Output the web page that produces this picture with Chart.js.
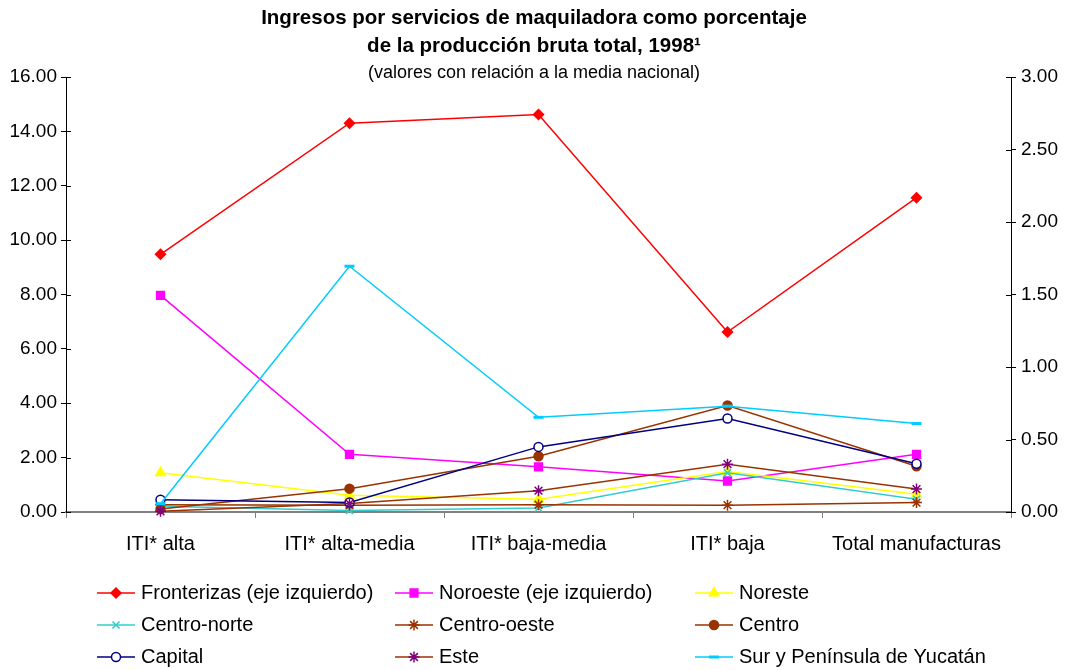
<!DOCTYPE html>
<html lang="es">
<head>
<meta charset="utf-8">
<title>Ingresos por servicios de maquiladora, 1998</title>
<script src="https://cdn.jsdelivr.net/npm/chart.js@4.4.1/dist/chart.umd.min.js"></script>
<style>
  html, body { margin: 0; padding: 0; background: #ffffff; }
  #wrap { width: 1068px; height: 670px; position: relative; }
</style>
</head>
<body>
<div id="wrap"><canvas id="chart" width="1068" height="670"></canvas></div>
<script>
// Categorías (intensidad tecnológica de la industria)
const categories = ['ITI* alta', 'ITI* alta-media', 'ITI* baja-media', 'ITI* baja', 'Total manufacturas'];

// Series en el eje izquierdo
const fronterizas = [9.48, 14.30, 14.62, 6.62, 11.56];
const noroeste    = [7.97, 2.12, 1.66, 1.14, 2.12];

// Series en el eje derecho
const noreste     = [0.27, 0.115, 0.088, 0.28, 0.123];
const centroNorte = [0.04, 0.01, 0.028, 0.27, 0.088];
const centroOeste = [0.05, 0.046, 0.05, 0.047, 0.065];
const centro      = [0.02, 0.161, 0.384, 0.735, 0.316];
const capital     = [0.085, 0.065, 0.449, 0.645, 0.333];
const este        = [0.005, 0.058, 0.147, 0.33, 0.158];
const surYucatan  = [0.057, 1.695, 0.653, 0.73, 0.61];

// Marcas de los ejes
const leftTicks  = [0, 2, 4, 6, 8, 10, 12, 14, 16];
const rightTicks = [0, 0.5, 1, 1.5, 2, 2.5, 3];

const titleLines = ['Ingresos por servicios de maquiladora como porcentaje', 'de la producción bruta total, 1998\u00B9'];
const subtitleText = '(valores con relación a la media nacional)';

const FONT = "Arial, 'Liberation Sans', sans-serif";

function series(label, data, axis, line, point) {
  return Object.assign({
    label: label,
    data: data,
    yAxisID: axis,
    borderColor: line,
    borderWidth: 1.5,
    tension: 0,
    fill: false,
    clip: false,
    pointRadius: 4.5,
    pointHoverRadius: 4.5,
    pointBorderWidth: 1.5
  }, point);
}

const datasets = [
  series('Fronterizas (eje izquierdo)', fronterizas, 'yL', '#FF0000',
    { pointStyle: 'rectRot', pointRadius: 5, pointBackgroundColor: '#FF0000', pointBorderColor: '#FF0000' }),
  series('Noroeste (eje izquierdo)', noroeste, 'yL', '#FF00FF',
    { pointStyle: 'rect', pointRadius: 5.5, pointBackgroundColor: '#FF00FF', pointBorderColor: '#FF00FF' }),
  series('Noreste', noreste, 'yR', '#FFFF00',
    { pointStyle: 'triangle', pointRadius: 5.5, pointBackgroundColor: '#FFFF00', pointBorderColor: '#FFFF00' }),
  series('Centro-norte', centroNorte, 'yR', '#33CCCC',
    { pointStyle: 'crossRot', pointRadius: 5, pointBackgroundColor: '#33CCCC', pointBorderColor: '#33CCCC' }),
  series('Centro-oeste', centroOeste, 'yR', '#993300',
    { pointStyle: 'star', pointRadius: 5.5, pointBackgroundColor: '#993300', pointBorderColor: '#993300' }),
  series('Centro', centro, 'yR', '#993300',
    { pointStyle: 'circle', pointRadius: 4.5, pointBackgroundColor: '#993300', pointBorderColor: '#993300' }),
  series('Capital', capital, 'yR', '#000080',
    { pointStyle: 'circle', pointRadius: 4.5, pointBackgroundColor: '#FFFFFF', pointBorderColor: '#000080' }),
  series('Este', este, 'yR', '#993300',
    { pointStyle: 'star', pointRadius: 5.5, pointBackgroundColor: '#800080', pointBorderColor: '#800080' }),
  series('Sur y Península de Yucatán', surYucatan, 'yR', '#00CCFF',
    { pointStyle: 'line', pointRadius: 5, pointBorderWidth: 3, pointBackgroundColor: '#00CCFF', pointBorderColor: '#00CCFF' })
];
// later series are painted over earlier ones
datasets.forEach((d, i) => { d.order = datasets.length - i; });

// Short tick marks that cross the vertical axis lines
const crossTicks = {
  id: 'crossTicks',
  afterDatasetsDraw(chart) {
    const ctx = chart.ctx;
    ctx.save();
    ctx.strokeStyle = '#000000';
    ctx.lineWidth = 1;
    ['yL', 'yR'].forEach(id => {
      const s = chart.scales[id];
      const x = id === 'yL' ? chart.chartArea.left : chart.chartArea.right;
      const dir = id === 'yL' ? 1 : -1;
      s.ticks.forEach(t => {
        const y = Math.round(s.getPixelForValue(t.value)) + 0.5;
        ctx.beginPath();
        ctx.moveTo(x, y);
        ctx.lineTo(x + dir * 5, y);
        ctx.stroke();
      });
    });
    ctx.restore();
  }
};

// Legend in three aligned columns under the plot
const gridLegend = {
  id: 'gridLegend',
  afterDraw(chart) {
    const ctx = chart.ctx;
    const colX = [97, 395, 695];
    const rowY = [593, 625, 657];
    ctx.save();
    chart.data.datasets.forEach((ds, i) => {
      const x = colX[i % 3];
      const y = rowY[Math.floor(i / 3)];
      ctx.strokeStyle = ds.borderColor;
      ctx.lineWidth = 1.5;
      ctx.beginPath();
      ctx.moveTo(x, y);
      ctx.lineTo(x + 38, y);
      ctx.stroke();
      ctx.fillStyle = ds.pointBackgroundColor;
      ctx.strokeStyle = ds.pointBorderColor;
      ctx.lineWidth = ds.pointBorderWidth;
      Chart.helpers.drawPoint(ctx, {
        pointStyle: ds.pointStyle,
        radius: ds.pointRadius,
        rotation: 0,
        borderWidth: ds.pointBorderWidth
      }, x + 19, y);
      ctx.fillStyle = '#000000';
      ctx.font = '20px ' + FONT;
      ctx.textAlign = 'left';
      ctx.textBaseline = 'middle';
      ctx.fillText(ds.label, x + 44, y);
    });
    ctx.restore();
  }
};

new Chart(document.getElementById('chart'), {
  type: 'line',
  data: { labels: categories, datasets: datasets },
  plugins: [crossTicks, gridLegend],
  options: {
    responsive: false,
    animation: false,
    layout: { padding: 0 },
    plugins: {
      legend: { display: false },
      tooltip: { enabled: false },
      title: {
        display: true,
        text: titleLines,
        color: '#000000',
        font: { family: FONT, size: 20.5, weight: 'bold', lineHeight: '28px' },
        padding: { top: 4, bottom: 0 }
      },
      subtitle: {
        display: true,
        text: subtitleText,
        color: '#000000',
        font: { family: FONT, size: 18, weight: 'normal', lineHeight: '18px' },
        padding: { top: 4, bottom: -5 }
      }
    },
    scales: {
      x: {
        type: 'category',
        offset: true,
        grid: { display: true, offset: true, drawOnChartArea: false, drawTicks: true, tickLength: 6, color: '#808080', lineWidth: 1 },
        border: { display: true, color: '#808080', width: 2 },
        ticks: { color: '#000000', font: { family: FONT, size: 20 }, padding: 14, maxRotation: 0, autoSkip: false },
        afterFit(scale) { scale.height = 158; }
      },
      yL: {
        type: 'linear',
        position: 'left',
        min: 0,
        max: 16,
        afterBuildTicks(scale) { scale.ticks = leftTicks.map(v => ({ value: v })); },
        grid: { display: true, drawOnChartArea: false, drawTicks: true, tickLength: 5, color: '#000000' },
        border: { display: true, color: '#000000', width: 1 },
        ticks: { color: '#000000', font: { family: FONT, size: 19 }, padding: 4, callback: v => Number(v).toFixed(2) },
        afterFit(scale) { scale.width = 66; }
      },
      yR: {
        type: 'linear',
        position: 'right',
        min: 0,
        max: 3,
        afterBuildTicks(scale) { scale.ticks = rightTicks.map(v => ({ value: v })); },
        grid: { display: true, drawOnChartArea: false, drawTicks: true, tickLength: 5, color: '#000000' },
        border: { display: true, color: '#000000', width: 1 },
        ticks: { color: '#000000', font: { family: FONT, size: 19 }, padding: 5, callback: v => Number(v).toFixed(2) },
        afterFit(scale) { scale.width = 57; }
      }
    }
  }
});
</script>
</body>
</html>
